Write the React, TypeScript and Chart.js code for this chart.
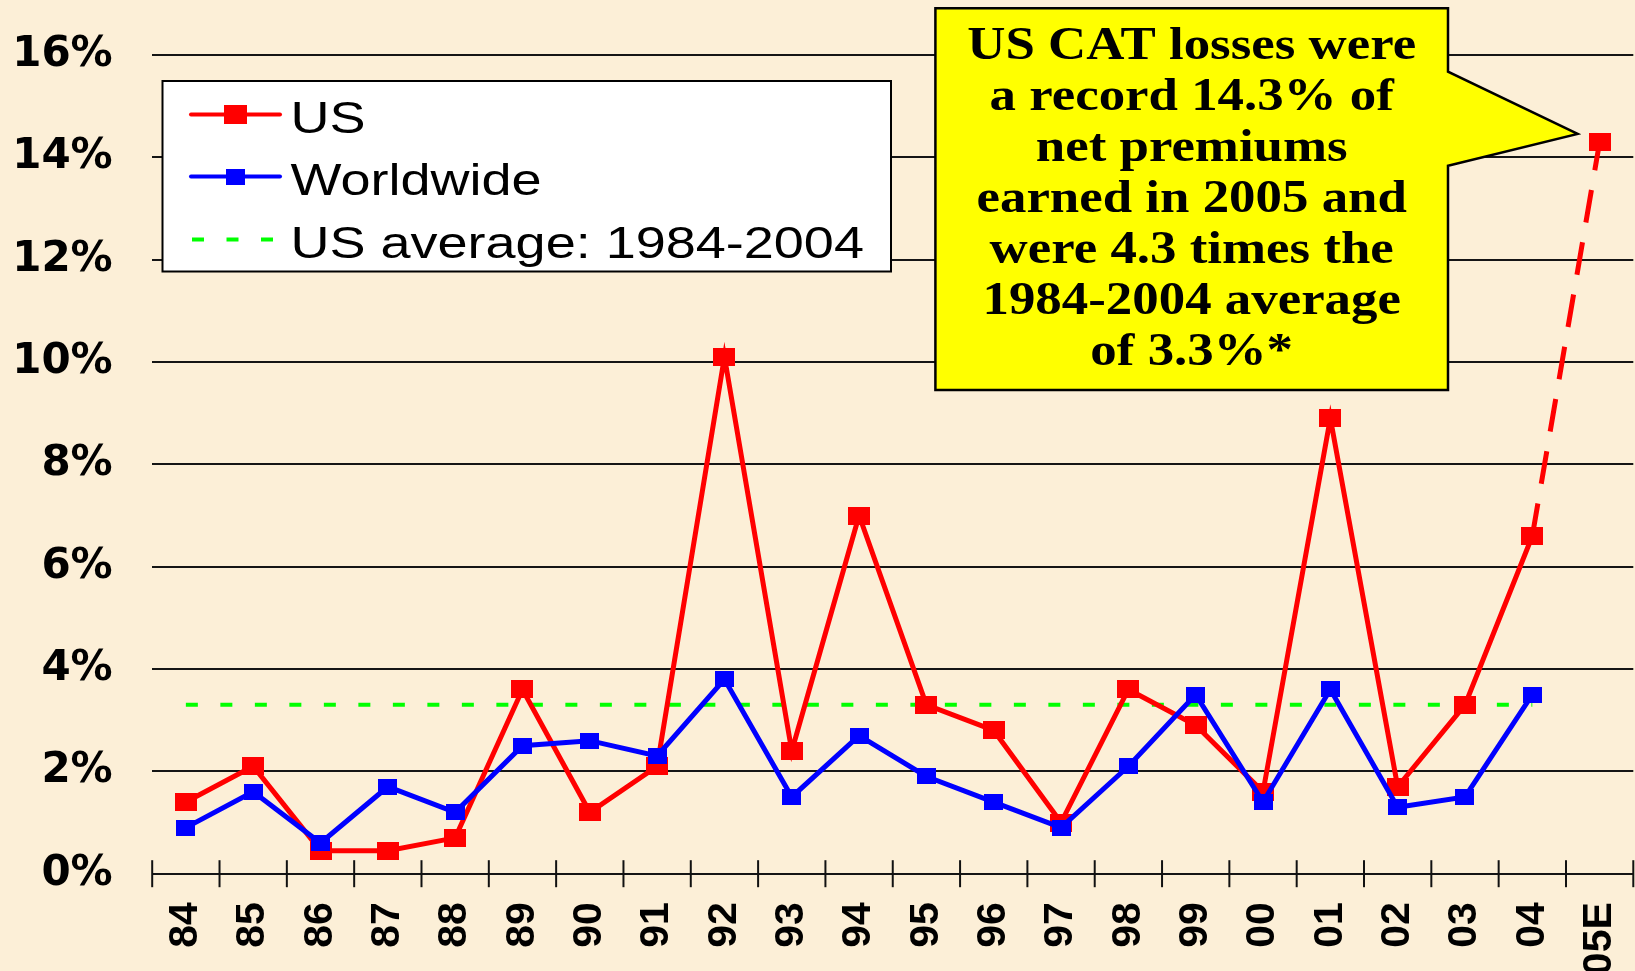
import React, { useEffect, useRef } from 'react';
import { Chart, registerables } from 'chart.js';

Chart.register(...registerables);

// ---- data ----
const years = ['84', '85', '86', '87', '88', '89', '90', '91', '92', '93', '94', '95', '96', '97', '98', '99', '00', '01', '02', '03', '04', '05E'];
const usLosses = [1.4, 2.1, 0.45, 0.45, 0.7, 3.6, 1.2, 2.1, 10.1, 2.4, 7.0, 3.3, 2.8, 1.0, 3.6, 2.9, 1.6, 8.9, 1.7, 3.3, 6.6, 14.3];
const worldwideLosses = [0.9, 1.6, 0.6, 1.7, 1.2, 2.5, 2.6, 2.3, 3.8, 1.5, 2.7, 1.9, 1.4, 0.9, 2.1, 3.5, 1.4, 3.6, 1.3, 1.5, 3.5, null];
const usAverageLine = [3.3, 3.3, 3.3, 3.3, 3.3, 3.3, 3.3, 3.3, 3.3, 3.3, 3.3, 3.3, 3.3, 3.3, 3.3, 3.3, 3.3, 3.3, 3.3, 3.3, 3.3, null];
const seriesNames = ['US', 'Worldwide', 'US average: 1984-2004'];
const calloutLines = [
  'US CAT losses were',
  'a record 14.3% of',
  'net premiums',
  'earned in 2005 and',
  'were 4.3 times the',
  '1984-2004 average',
  'of 3.3%*',
];
const yMin = 0;
const yMax = 16;
const yStep = 2;

const W = 1635;
const H = 971;
const BG = '#FCEFD7';
const RED = '#FF0000';
const BLUE = '#0000FF';
const GREEN = '#00FF00';

function makeRect(w: number, h: number, color: string): HTMLCanvasElement {
  const c = document.createElement('canvas');
  c.width = w;
  c.height = h;
  const g = c.getContext('2d')!;
  g.fillStyle = color;
  g.fillRect(0, 0, w, h);
  return c;
}

export default function App() {
  const ref = useRef<HTMLCanvasElement | null>(null);

  useEffect(() => {
    document.body.style.margin = '0';
    const canvas = ref.current!;
    const redMark = makeRect(22, 18, RED);
    const blueMark = makeRect(19, 16, BLUE);
    const redLegendMark = makeRect(23, 19, RED);
    const blueLegendMark = makeRect(19, 16, BLUE);

    const backgroundPlugin = {
      id: 'bg',
      beforeDraw(chart: any) {
        const ctx = chart.ctx;
        ctx.save();
        ctx.fillStyle = BG;
        ctx.fillRect(0, 0, chart.width, chart.height);
        ctx.restore();
      },
    };

    const tickMarksPlugin = {
      id: 'xTickMarks',
      beforeDatasetsDraw(chart: any) {
        const xs = chart.scales.x;
        const ys = chart.scales.y;
        const ctx = chart.ctx;
        const x0 = xs.getPixelForValue(0);
        const step = xs.getPixelForValue(1) - x0;
        const yAxis = ys.getPixelForValue(0);
        ctx.save();
        ctx.strokeStyle = '#111111';
        ctx.lineWidth = 2;
        for (let i = 0; i <= years.length; i++) {
          const x = x0 + (i - 0.5) * step;
          ctx.beginPath();
          ctx.moveTo(x, yAxis - 13.5);
          ctx.lineTo(x, yAxis + 13.5);
          ctx.stroke();
        }
        ctx.restore();
      },
    };

    const stretchText = (ctx: CanvasRenderingContext2D, text: string, x: number, y: number, sx: number) => {
      ctx.save();
      ctx.translate(x, y);
      ctx.scale(sx, 1);
      ctx.fillText(text, 0, 0);
      ctx.restore();
    };

    const overlayPlugin = {
      id: 'overlay',
      afterDraw(chart: any) {
        const ctx = chart.ctx;
        // ---- legend ----
        ctx.save();
        ctx.fillStyle = '#FFFFFF';
        ctx.fillRect(162.5, 81, 728.5, 190.5);
        ctx.strokeStyle = '#000000';
        ctx.lineWidth = 2;
        ctx.strokeRect(162.5, 81, 728.5, 190.5);

        const rowsY = [114.5, 176.5, 239.5];
        const marks = [redLegendMark, blueLegendMark, null];
        const ds = chart.data.datasets;
        for (let i = 0; i < 3; i++) {
          const y = rowsY[i];
          ctx.save();
          ctx.strokeStyle = ds[i].borderColor;
          ctx.lineWidth = 4;
          if (i < 2) {
            ctx.lineCap = 'round';
            ctx.beginPath();
            ctx.moveTo(191, y);
            ctx.lineTo(280, y);
            ctx.stroke();
            const m = marks[i]!;
            ctx.drawImage(m, 235 - m.width / 2, y - m.height / 2);
          } else {
            ctx.lineCap = 'butt';
            ctx.setLineDash([12, 22.5]);
            ctx.beginPath();
            ctx.moveTo(192, y);
            ctx.lineTo(274, y);
            ctx.stroke();
          }
          ctx.restore();
        }
        ctx.fillStyle = '#000000';
        ctx.font = '45px "Liberation Sans", Arial, sans-serif';
        ctx.textAlign = 'left';
        ctx.textBaseline = 'alphabetic';
        const baselines = [132.5, 195, 258.3];
        for (let i = 0; i < 3; i++) {
          stretchText(ctx, seriesNames[i], 290.5, baselines[i], 1.2);
        }
        ctx.restore();

        // ---- callout ----
        const meta = chart.getDatasetMeta(0);
        const pt = meta.data[meta.data.length - 1];
        const tipX = pt.x - 22;
        const tipY = pt.y - 8;
        const L = 935.4, R = 1448, T = 8.3, B = 390;
        ctx.save();
        ctx.beginPath();
        ctx.moveTo(L, T);
        ctx.lineTo(R, T);
        ctx.lineTo(R, 71.7);
        ctx.lineTo(tipX, tipY);
        ctx.lineTo(R, 165.7);
        ctx.lineTo(R, B);
        ctx.lineTo(L, B);
        ctx.closePath();
        ctx.fillStyle = '#FFFF00';
        ctx.fill();
        ctx.strokeStyle = '#000000';
        ctx.lineWidth = 2.5;
        ctx.lineJoin = 'miter';
        ctx.stroke();
        ctx.fillStyle = '#000000';
        ctx.font = 'bold 47px "Liberation Serif", "Times New Roman", serif';
        ctx.textAlign = 'center';
        ctx.textBaseline = 'alphabetic';
        const cx = (L + R) / 2;
        for (let i = 0; i < calloutLines.length; i++) {
          stretchText(ctx, calloutLines[i], cx, 59.3 + 50.95 * i, 1.125);
        }
        ctx.restore();
      },
    };

    const chart = new Chart(canvas, {
      type: 'line',
      data: {
        labels: years,
        datasets: [
          {
            label: seriesNames[0],
            data: usLosses,
            borderColor: RED,
            backgroundColor: RED,
            borderWidth: 5,
            pointStyle: redMark as any,
            pointRadius: 10,
            pointBorderWidth: 0,
            order: 2,
            segment: {
              borderDash: (c: any) => (c.p0DataIndex === usLosses.length - 2 ? [33, 20] : undefined),
            },
          },
          {
            label: seriesNames[1],
            data: worldwideLosses,
            borderColor: BLUE,
            backgroundColor: BLUE,
            borderWidth: 5,
            pointStyle: blueMark as any,
            pointRadius: 10,
            pointBorderWidth: 0,
            order: 1,
          },
          {
            label: seriesNames[2],
            data: usAverageLine,
            borderColor: GREEN,
            backgroundColor: GREEN,
            borderWidth: 4,
            borderDash: [12, 22.5],
            borderCapStyle: 'butt',
            pointRadius: 0,
            order: 3,
          },
        ],
      },
      options: {
        animation: false,
        responsive: false,
        devicePixelRatio: 1,
        events: [],
        layout: { autoPadding: false, padding: { top: 55, right: 1.7, left: 0, bottom: 0 } },
        plugins: {
          legend: { display: false },
          tooltip: { enabled: false },
        },
        scales: {
          x: {
            type: 'category',
            offset: true,
            grid: { display: false, drawTicks: false },
            border: { display: false },
            ticks: {
              autoSkip: false,
              minRotation: 90,
              maxRotation: 90,
              padding: 28.5,
              color: '#000000',
              font: { family: '"Liberation Sans", Arial, sans-serif', size: 41, weight: 'bold' },
            },
            afterFit: (s: any) => {
              s.height = 97.3;
              s.paddingLeft = 0;
              s.paddingRight = 0;
              s.paddingTop = 0;
              s.paddingBottom = 0;
            },
          },
          y: {
            min: yMin,
            max: yMax,
            grid: { color: '#151515', lineWidth: 2, drawTicks: false },
            border: { display: false },
            ticks: {
              stepSize: yStep,
              padding: 39.5,
              color: '#000000',
              font: { family: '"DejaVu Sans", sans-serif', size: 42, weight: 'bold' },
              callback: (v: any) => `${v}%`,
            },
            afterFit: (s: any) => {
              s.width = 152.2;
              s.paddingLeft = 0;
              s.paddingRight = 0;
              s.paddingTop = 0;
              s.paddingBottom = 0;
            },
          },
        },
      },
      plugins: [backgroundPlugin, tickMarksPlugin, overlayPlugin],
    } as any);

    return () => chart.destroy();
  }, []);

  return (
    <div style={{ position: 'absolute', left: 0, top: 0, width: W, height: H }}>
      <canvas ref={ref} width={W} height={H} style={{ display: 'block', width: W, height: H }} />
    </div>
  );
}
